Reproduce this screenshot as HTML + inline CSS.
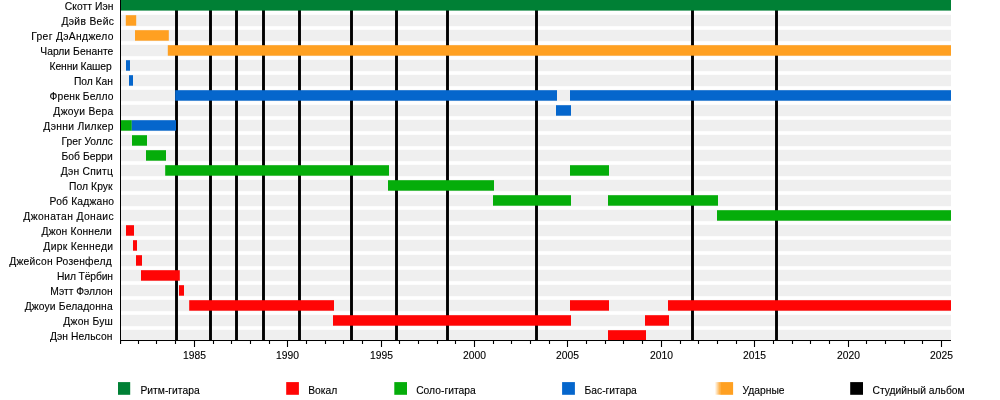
<!DOCTYPE html>
<html lang="ru"><head><meta charset="utf-8"><title>Anthrax timeline</title>
<style>
html,body{margin:0;padding:0;background:#fff;}
body{width:1000px;height:400px;position:relative;overflow:hidden;font-family:"Liberation Sans",Arial,sans-serif;font-size:10.3px;color:#000;-webkit-text-stroke:0.12px #000;}
.n{position:absolute;white-space:nowrap;line-height:12px;height:12px;}
.y{position:absolute;width:40px;text-align:center;top:350px;line-height:12px;}
.lg{position:absolute;top:384.5px;line-height:12px;white-space:nowrap;}
</style></head><body>

<svg width="1000" height="400" viewBox="0 0 1000 400" style="position:absolute;left:0;top:0">
<rect x="121" y="14.8" width="830" height="11.4" fill="#efefef"/>
<rect x="121" y="29.8" width="830" height="11.4" fill="#efefef"/>
<rect x="121" y="44.8" width="830" height="11.4" fill="#efefef"/>
<rect x="121" y="59.8" width="830" height="11.4" fill="#efefef"/>
<rect x="121" y="74.8" width="830" height="11.4" fill="#efefef"/>
<rect x="121" y="89.8" width="830" height="11.4" fill="#efefef"/>
<rect x="121" y="104.8" width="830" height="11.4" fill="#efefef"/>
<rect x="121" y="119.8" width="830" height="11.4" fill="#efefef"/>
<rect x="121" y="134.8" width="830" height="11.4" fill="#efefef"/>
<rect x="121" y="149.8" width="830" height="11.4" fill="#efefef"/>
<rect x="121" y="164.8" width="830" height="11.4" fill="#efefef"/>
<rect x="121" y="179.8" width="830" height="11.4" fill="#efefef"/>
<rect x="121" y="194.8" width="830" height="11.4" fill="#efefef"/>
<rect x="121" y="209.8" width="830" height="11.4" fill="#efefef"/>
<rect x="121" y="224.8" width="830" height="11.4" fill="#efefef"/>
<rect x="121" y="239.8" width="830" height="11.4" fill="#efefef"/>
<rect x="121" y="254.8" width="830" height="11.4" fill="#efefef"/>
<rect x="121" y="269.8" width="830" height="11.4" fill="#efefef"/>
<rect x="121" y="284.8" width="830" height="11.4" fill="#efefef"/>
<rect x="121" y="299.8" width="830" height="11.4" fill="#efefef"/>
<rect x="121" y="314.8" width="830" height="11.4" fill="#efefef"/>
<rect x="121" y="329.8" width="830" height="11.4" fill="#efefef"/>
<rect x="175.05" y="10" width="2.9" height="330.5" fill="#000"/>
<rect x="209.05" y="10" width="2.9" height="330.5" fill="#000"/>
<rect x="235.05" y="10" width="2.9" height="330.5" fill="#000"/>
<rect x="262.05" y="10" width="2.9" height="330.5" fill="#000"/>
<rect x="298.05" y="10" width="2.9" height="330.5" fill="#000"/>
<rect x="350.05" y="10" width="2.9" height="330.5" fill="#000"/>
<rect x="395.05" y="10" width="2.9" height="330.5" fill="#000"/>
<rect x="446.05" y="10" width="2.9" height="330.5" fill="#000"/>
<rect x="535.05" y="10" width="2.9" height="330.5" fill="#000"/>
<rect x="691.05" y="10" width="2.9" height="330.5" fill="#000"/>
<rect x="775.05" y="10" width="2.9" height="330.5" fill="#000"/>
<rect x="120" y="-1" width="831" height="11.6" fill="#008035"/>
<rect x="125.8" y="15.2" width="10.4" height="10.5" fill="#ffa021"/>
<rect x="135" y="30.2" width="33.8" height="10.5" fill="#ffa021"/>
<rect x="167.8" y="45.2" width="783.2" height="10.5" fill="#ffa021"/>
<rect x="126" y="60.2" width="4" height="10.5" fill="#0566cc"/>
<rect x="129" y="75.2" width="4" height="10.5" fill="#0566cc"/>
<rect x="175.2" y="90.2" width="381.8" height="10.5" fill="#0566cc"/>
<rect x="570" y="90.2" width="381" height="10.5" fill="#0566cc"/>
<rect x="556" y="105.2" width="15" height="10.5" fill="#0566cc"/>
<rect x="120.5" y="120.2" width="11.3" height="10.5" fill="#05ad0a"/>
<rect x="131.8" y="120.2" width="44.2" height="10.5" fill="#0566cc"/>
<rect x="132" y="135.2" width="15" height="10.5" fill="#05ad0a"/>
<rect x="146" y="150.2" width="20" height="10.5" fill="#05ad0a"/>
<rect x="165.2" y="165.2" width="223.8" height="10.5" fill="#05ad0a"/>
<rect x="570" y="165.2" width="39" height="10.5" fill="#05ad0a"/>
<rect x="388" y="180.2" width="106" height="10.5" fill="#05ad0a"/>
<rect x="493" y="195.2" width="78" height="10.5" fill="#05ad0a"/>
<rect x="608" y="195.2" width="110" height="10.5" fill="#05ad0a"/>
<rect x="717" y="210.2" width="234" height="10.5" fill="#05ad0a"/>
<rect x="126" y="225.2" width="8" height="10.5" fill="#ff0505"/>
<rect x="133" y="240.2" width="4" height="10.5" fill="#ff0505"/>
<rect x="136" y="255.2" width="6" height="10.5" fill="#ff0505"/>
<rect x="141" y="270.2" width="38.8" height="10.5" fill="#ff0505"/>
<rect x="179" y="285.2" width="5" height="10.5" fill="#ff0505"/>
<rect x="189.2" y="300.2" width="144.8" height="10.5" fill="#ff0505"/>
<rect x="570" y="300.2" width="39" height="10.5" fill="#ff0505"/>
<rect x="668" y="300.2" width="283" height="10.5" fill="#ff0505"/>
<rect x="333" y="315.2" width="238" height="10.5" fill="#ff0505"/>
<rect x="645" y="315.2" width="24" height="10.5" fill="#ff0505"/>
<rect x="608" y="330.2" width="38" height="10.5" fill="#ff0505"/>
<rect x="120" y="0" width="1" height="341" fill="#000"/>
<rect x="120" y="340" width="831" height="1" fill="#000"/>
<rect x="120" y="341" width="1.1" height="3" fill="#000"/>
<rect x="137.95" y="341" width="1.1" height="3" fill="#000"/>
<rect x="155.95" y="341" width="1.1" height="3" fill="#000"/>
<rect x="174.95" y="341" width="1.1" height="3" fill="#000"/>
<rect x="193.95" y="341" width="1.1" height="6" fill="#000"/>
<rect x="212.95" y="341" width="1.1" height="3" fill="#000"/>
<rect x="230.95" y="341" width="1.1" height="3" fill="#000"/>
<rect x="249.95" y="341" width="1.1" height="3" fill="#000"/>
<rect x="268.95" y="341" width="1.1" height="3" fill="#000"/>
<rect x="286.95" y="341" width="1.1" height="6" fill="#000"/>
<rect x="305.95" y="341" width="1.1" height="3" fill="#000"/>
<rect x="324.95" y="341" width="1.1" height="3" fill="#000"/>
<rect x="342.95" y="341" width="1.1" height="3" fill="#000"/>
<rect x="361.95" y="341" width="1.1" height="3" fill="#000"/>
<rect x="380.95" y="341" width="1.1" height="6" fill="#000"/>
<rect x="398.95" y="341" width="1.1" height="3" fill="#000"/>
<rect x="417.95" y="341" width="1.1" height="3" fill="#000"/>
<rect x="436.95" y="341" width="1.1" height="3" fill="#000"/>
<rect x="454.95" y="341" width="1.1" height="3" fill="#000"/>
<rect x="473.95" y="341" width="1.1" height="6" fill="#000"/>
<rect x="492.95" y="341" width="1.1" height="3" fill="#000"/>
<rect x="510.95" y="341" width="1.1" height="3" fill="#000"/>
<rect x="529.95" y="341" width="1.1" height="3" fill="#000"/>
<rect x="548.95" y="341" width="1.1" height="3" fill="#000"/>
<rect x="566.95" y="341" width="1.1" height="6" fill="#000"/>
<rect x="585.95" y="341" width="1.1" height="3" fill="#000"/>
<rect x="604.95" y="341" width="1.1" height="3" fill="#000"/>
<rect x="622.95" y="341" width="1.1" height="3" fill="#000"/>
<rect x="641.95" y="341" width="1.1" height="3" fill="#000"/>
<rect x="660.95" y="341" width="1.1" height="6" fill="#000"/>
<rect x="679.95" y="341" width="1.1" height="3" fill="#000"/>
<rect x="697.95" y="341" width="1.1" height="3" fill="#000"/>
<rect x="716.95" y="341" width="1.1" height="3" fill="#000"/>
<rect x="735.95" y="341" width="1.1" height="3" fill="#000"/>
<rect x="753.95" y="341" width="1.1" height="6" fill="#000"/>
<rect x="772.95" y="341" width="1.1" height="3" fill="#000"/>
<rect x="791.95" y="341" width="1.1" height="3" fill="#000"/>
<rect x="809.95" y="341" width="1.1" height="3" fill="#000"/>
<rect x="828.95" y="341" width="1.1" height="3" fill="#000"/>
<rect x="847.95" y="341" width="1.1" height="6" fill="#000"/>
<rect x="865.95" y="341" width="1.1" height="3" fill="#000"/>
<rect x="884.95" y="341" width="1.1" height="3" fill="#000"/>
<rect x="903.95" y="341" width="1.1" height="3" fill="#000"/>
<rect x="921.95" y="341" width="1.1" height="3" fill="#000"/>
<rect x="940.95" y="341" width="1.1" height="6" fill="#000"/>
</svg>
<div class="n" style="top:1.1px;left:64.7px;letter-spacing:0.068px">Скотт Иэн</div>
<div class="n" style="top:16.1px;left:61.53px;letter-spacing:0.315px">Дэйв Вейс</div>
<div class="n" style="top:31.1px;left:31.23px;letter-spacing:0.332px">Грег ДэАнджело</div>
<div class="n" style="top:46.1px;left:40.23px;letter-spacing:0.045px">Чарли Бенанте</div>
<div class="n" style="top:61.1px;left:49.56px;letter-spacing:-0.108px">Кенни Кашер</div>
<div class="n" style="top:76.1px;left:74.03px;letter-spacing:-0.06px">Пол Кан</div>
<div class="n" style="top:91.1px;left:49.56px;letter-spacing:0.162px">Френк Белло</div>
<div class="n" style="top:106.1px;left:53.36px;letter-spacing:0.3px">Джоуи Вера</div>
<div class="n" style="top:121.1px;left:43.36px;letter-spacing:0.311px">Дэнни Лилкер</div>
<div class="n" style="top:136.1px;left:61.56px;letter-spacing:-0.02px">Грег Уоллс</div>
<div class="n" style="top:151.1px;left:61.56px;letter-spacing:0.023px">Боб Берри</div>
<div class="n" style="top:166.1px;left:60.7px;letter-spacing:0.27px">Дэн Спитц</div>
<div class="n" style="top:181.1px;left:69.03px;letter-spacing:0.077px">Пол Крук</div>
<div class="n" style="top:196.1px;left:49.56px;letter-spacing:0.18px">Роб Каджано</div>
<div class="n" style="top:211.1px;left:23.36px;letter-spacing:0.386px">Джонатан Донаис</div>
<div class="n" style="top:226.1px;left:41.53px;letter-spacing:0.164px">Джон Коннели</div>
<div class="n" style="top:241.1px;left:43.36px;letter-spacing:0.311px">Дирк Кеннеди</div>
<div class="n" style="top:256.1px;left:9.28px;letter-spacing:0.225px">Джейсон Розенфелд</div>
<div class="n" style="top:271.1px;left:56.98px;letter-spacing:-0.12px">Нил Тёрбин</div>
<div class="n" style="top:286.1px;left:50.34px;letter-spacing:-0.018px">Мэтт Фэллон</div>
<div class="n" style="top:301.1px;left:24.7px;letter-spacing:0.141px">Джоуи Беладонна</div>
<div class="n" style="top:316.1px;left:63.36px;letter-spacing:0.206px">Джон Буш</div>
<div class="n" style="top:331.1px;left:49.92px;letter-spacing:0.09px">Дэн Нельсон</div>
<div class="y" style="left:174.5px">1985</div>
<div class="y" style="left:267.5px">1990</div>
<div class="y" style="left:361.5px">1995</div>
<div class="y" style="left:454.5px">2000</div>
<div class="y" style="left:547.5px">2005</div>
<div class="y" style="left:641.5px">2010</div>
<div class="y" style="left:734.5px">2015</div>
<div class="y" style="left:828.5px">2020</div>
<div class="y" style="left:921.5px">2025</div>
<svg width="1000" height="20" viewBox="0 380 1000 20" style="position:absolute;left:0;top:380px">
<defs><linearGradient id="fade" x1="0" x2="1" y1="0" y2="0"><stop offset="0" stop-color="#ffa021" stop-opacity="0"/><stop offset="1" stop-color="#ffa021" stop-opacity="1"/></linearGradient></defs>
<rect x="714.8" y="382.1" width="6" height="12.6" fill="url(#fade)"/>
<rect x="118" y="382.1" width="12.2" height="12.7" fill="#008035"/>
<rect x="286.2" y="382.1" width="12.7" height="12.7" fill="#ff0505"/>
<rect x="394.3" y="382.1" width="12.7" height="12.7" fill="#05ad0a"/>
<rect x="562.1" y="382.1" width="12.8" height="12.7" fill="#0566cc"/>
<rect x="720.6" y="382.1" width="12.5" height="12.7" fill="#ffa021"/>
<rect x="850.2" y="382.1" width="12.8" height="12.7" fill="#000"/>
</svg>
<div class="lg" style="left:140.5px">Ритм-гитара</div>
<div class="lg" style="left:308.2px">Вокал</div>
<div class="lg" style="left:416.2px">Соло-гитара</div>
<div class="lg" style="left:584.5px">Бас-гитара</div>
<div class="lg" style="left:742.5px">Ударные</div>
<div class="lg" style="left:872.5px">Студийный альбом</div>
</body></html>
